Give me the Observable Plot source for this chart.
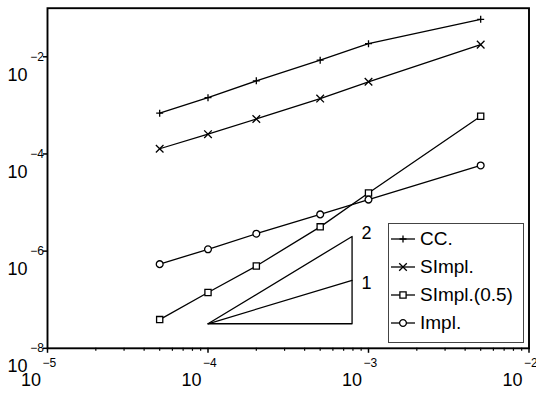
<!DOCTYPE html>
<html>
<head>
<meta charset="utf-8">
<script src="https://cdn.jsdelivr.net/npm/d3@7"></script>
<script src="https://cdn.jsdelivr.net/npm/@observablehq/plot@0.6"></script>
<style>
  body { margin: 0; background: #fff; }
  #wrap { position: relative; width: 536px; height: 395px; font-family: "Liberation Sans", Arial, sans-serif; }
  #legend { position: absolute; left: 388px; top: 223px; width: 136px; height: 120px; box-sizing: border-box;
            border: 1px solid #444; background: #fff; padding-top: 1px; }
  .row { display: flex; align-items: center; height: 28px; }
  .row span { font-size: 19px; color: #000; line-height: 28px; }
</style>
</head>
<body>
<div id="wrap"></div>
<script>
// ---- data ----
const hValues    = [5e-5, 1e-4, 2e-4, 5e-4, 1e-3, 5e-3];
const ccErr      = [6.9e-4, 1.44e-3, 3.2e-3, 8.5e-3, 1.86e-2, 5.9e-2];
const simplErr   = [1.28e-4, 2.55e-4, 5.25e-4, 1.38e-3, 3.06e-3, 1.78e-2];
const simpl05Err = [3.9e-8, 1.41e-7, 4.95e-7, 3.16e-6, 1.57e-5, 5.96e-4];
const implErr    = [5.4e-7, 1.09e-6, 2.28e-6, 5.7e-6, 1.15e-5, 5.8e-5];
const seriesNames = ["CC.", "SImpl.", "SImpl.(0.5)", "Impl."];

// slope triangle (reference annotation)
const triX = [1e-4, 7.9e-4, 7.9e-4, 1e-4];
const triY = [3.2e-8, 3.2e-8, 2.0e-6, 3.2e-8];
const slope1X = [1e-4, 7.9e-4];
const slope1Y = [3.2e-8, 2.5e-7];
const slopeLabels = ["2", "1"];
const slopeLabelX = [7.9e-4, 7.9e-4];
const slopeLabelY = [2.0e-6, 2.5e-7];

// ticks
const xMajor = [1e-5, 1e-4, 1e-3, 1e-2];
const xMinor = [2e-5,3e-5,4e-5,5e-5,6e-5,7e-5,8e-5,9e-5,
                2e-4,3e-4,4e-4,5e-4,6e-4,7e-4,8e-4,9e-4,
                2e-3,3e-3,4e-3,5e-3,6e-3,7e-3,8e-3,9e-3];
const yMajor = [1e-8, 1e-6, 1e-4, 1e-2];

// ---- custom symbols: r = half size ----
const plusSym = {draw(c, s) { const h = Math.sqrt(s / Math.PI); c.moveTo(-h, 0); c.lineTo(h, 0); c.moveTo(0, -h); c.lineTo(0, h); }};
const timesSym = {draw(c, s) { const h = Math.sqrt(s / Math.PI); c.moveTo(-h, -h); c.lineTo(h, h); c.moveTo(-h, h); c.lineTo(h, -h); }};
const squareSym = {draw(c, s) { const h = Math.sqrt(s / Math.PI); c.rect(-h, -h, 2 * h, 2 * h); }};
const circleSym = {draw(c, s) { const h = Math.sqrt(s / Math.PI); c.moveTo(h, 0); c.arc(0, 0, h, 0, 2 * Math.PI); }};

const series = [
  {name: seriesNames[0], values: ccErr,      symbol: plusSym,   r: 3.5, fill: "none"},
  {name: seriesNames[1], values: simplErr,   symbol: timesSym,  r: 3.8, fill: "none"},
  {name: seriesNames[2], values: simpl05Err, symbol: squareSym, r: 3.1, fill: "white"},
  {name: seriesNames[3], values: implErr,    symbol: circleSym, r: 3.4, fill: "white"}
];

const triangle = triX.map((x, i) => ({x, y: triY[i]}));
const slope1 = slope1X.map((x, i) => ({x, y: slope1Y[i]}));
const slopeText = slopeLabels.map((t, i) => ({t, x: slopeLabelX[i], y: slopeLabelY[i]}));

const marks = [];
// slope triangle
marks.push(Plot.line(triangle, {x: "x", y: "y", stroke: "black", strokeWidth: 1.3}));
marks.push(Plot.line(slope1, {x: "x", y: "y", stroke: "black", strokeWidth: 1.3}));
marks.push(Plot.text(slopeText.slice(0, 1), {x: "x", y: "y", text: "t", fontSize: 18, textAnchor: "middle", dx: 14.5, dy: -3.2, fill: "black"}));
marks.push(Plot.text(slopeText.slice(1), {x: "x", y: "y", text: "t", fontSize: 18, textAnchor: "middle", dx: 14.5, dy: 2.5, fill: "black"}));

for (const s of series) {
  const rows = hValues.map((h, i) => ({h, e: s.values[i]}));
  marks.push(Plot.line(rows, {x: "h", y: "e", stroke: "black", strokeWidth: 1.3}));
  marks.push(Plot.dot(rows, {x: "h", y: "e", symbol: s.symbol, r: s.r, stroke: "black", fill: s.fill, strokeWidth: 1.3}));
}

// axes
const expLabel = d => "\u2212" + Math.round(-Math.log10(d));
marks.push(Plot.axisX(xMinor, {anchor: "bottom", tickSize: 3, tickPadding: 0, tickFormat: () => "", label: null, strokeWidth: 1.2}));
marks.push(Plot.axisX(xMajor, {anchor: "bottom", tickSize: 5, tickPadding: 0, tickFormat: () => "", label: null, strokeWidth: 1.5}));
marks.push(Plot.axisX(xMajor, {anchor: "bottom", tickSize: 0, tickPadding: 0, tickFormat: () => "10", label: null,
  textAnchor: "end", dx: -6.5, dy: 24.5, fontSize: 18}));
marks.push(Plot.axisX(xMajor, {anchor: "bottom", tickSize: 0, tickPadding: 0, tickFormat: expLabel, label: null,
  textAnchor: "start", dx: -5, dy: 10.5, fontSize: 12}));
marks.push(Plot.axisY(yMajor, {anchor: "left", tickSize: 4, tickPadding: 0, tickFormat: () => "", label: null, strokeWidth: 1.5}));
marks.push(Plot.axisY(yMajor, {anchor: "left", tickSize: 0, tickPadding: 0, tickFormat: () => "10", label: null,
  textAnchor: "end", dx: -20, dy: 18.2, fontSize: 18}));
marks.push(Plot.axisY(yMajor, {anchor: "left", tickSize: 0, tickPadding: 0, tickFormat: expLabel, label: null,
  textAnchor: "end", dx: -3.5, dy: 0.2, fontSize: 12}));
marks.push(Plot.frame({stroke: "black", strokeWidth: 1.9}));

const plot = Plot.plot({
  width: 536, height: 395,
  marginLeft: 47, marginRight: 7.5, marginTop: 7.7, marginBottom: 47.2,
  x: {type: "log", domain: [1e-5, 1e-2], label: null},
  y: {type: "log", domain: [1e-8, 1e-1], label: null},
  style: {fontFamily: "'Liberation Sans', Arial, sans-serif", background: "white", color: "black", overflow: "visible"},
  marks
});

const wrap = document.getElementById("wrap");
wrap.appendChild(plot);

// legend inside the plot area
const legend = document.createElement("div");
legend.id = "legend";
for (const s of series) {
  const p = d3.path();
  s.symbol.draw(p, Math.PI * s.r * s.r);
  const row = document.createElement("div");
  row.className = "row";
  row.innerHTML =
    `<svg width="31" height="28" style="flex:none">` +
    `<line x1="2" x2="26" y1="14" y2="14" stroke="black" stroke-width="1.3"/>` +
    `<path transform="translate(14,14)" d="${p.toString()}" stroke="black" stroke-width="1.3" fill="${s.fill}"/>` +
    `</svg><span>${s.name}</span>`;
  legend.appendChild(row);
}
wrap.appendChild(legend);
</script>
</body>
</html>
